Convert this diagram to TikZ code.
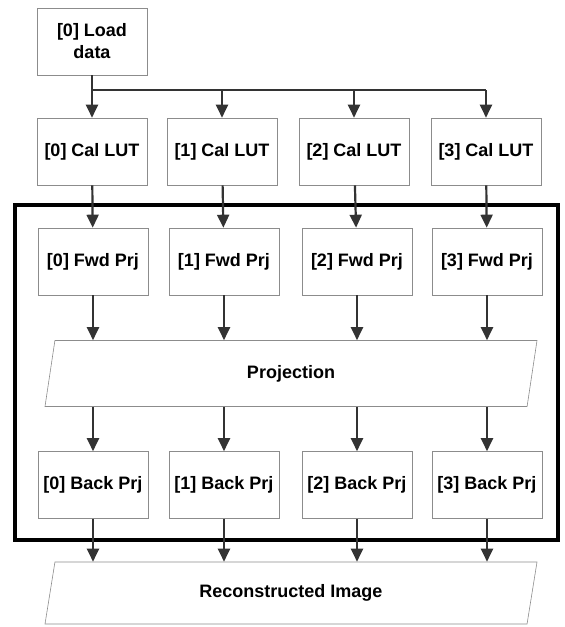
\documentclass[tikz,border=0pt]{standalone}
\usepackage{fontspec}
\setmainfont{Liberation Sans}
\usetikzlibrary{arrows.meta, shapes.geometric}

\begin{document}
\begin{tikzpicture}[
    x=1pt, y=-1pt,
    box/.style={draw=black!45, line width=0.6pt, minimum width=110pt, minimum height=67pt,
                align=center, inner sep=2pt, font=\fontsize{18}{22}\selectfont\bfseries},
    slab/.style={draw=black!45, line width=0.6pt, trapezium, trapezium left angle=64.5,
                 trapezium right angle=115.5, trapezium stretches body,
                 minimum width=492pt, minimum height=66pt, inner sep=2pt,
                 font=\fontsize{18}{22}\selectfont\bfseries},
    wire/.style={line width=2.2pt, draw=black!80},
    arr/.style={wire, -{Triangle[length=13pt,width=12pt]}}
  ]
    \useasboundingbox (0,0) rectangle (565,627);

    \node[box] (load) at (92,41.5) {[0] Load\\data};

    \node[box] (lut0) at (92,151.5)  {[0] Cal LUT};
    \node[box] (lut1) at (222,151.5) {[1] Cal LUT};
    \node[box] (lut2) at (354,151.5) {[2] Cal LUT};
    \node[box] (lut3) at (486,151.5) {[3] Cal LUT};

    \node[box] (fwd0) at (93,261.5)  {[0] Fwd Prj};
    \node[box] (fwd1) at (224,261.5) {[1] Fwd Prj};
    \node[box] (fwd2) at (357,261.5) {[2] Fwd Prj};
    \node[box] (fwd3) at (487,261.5) {[3] Fwd Prj};

    \node[slab] (proj) at (291,373.5) {Projection};

    \node[box] (back0) at (93,485)  {[0] Back Prj};
    \node[box] (back1) at (224,485) {[1] Back Prj};
    \node[box] (back2) at (357,485) {[2] Back Prj};
    \node[box] (back3) at (487,485) {[3] Back Prj};

    \node[slab, minimum height=62pt] (recon) at (291,593) {Reconstructed Image};

    % GPU part
    \draw[line width=4pt] (15,205) rectangle (558,540);

    % load -> LUTs
    \coordinate (bus0) at (92,90);
    \coordinate (bus3) at (486,90);
    \draw[wire] (bus0) -- (bus3);
    \draw[arr] (load) -- (lut0);
    \draw[arr] (lut1 |- bus0) -- (lut1);
    \draw[arr] (lut2 |- bus0) -- (lut2);
    \draw[arr] (bus3) -- (lut3);

    \draw[arr] (lut0) -- (fwd0);
    \draw[arr] (lut1) -- (fwd1);
    \draw[arr] (lut2) -- (fwd2);
    \draw[arr] (lut3) -- (fwd3);

    \draw[arr] (fwd0) -- (fwd0 |- proj.north);
    \draw[arr] (fwd1) -- (fwd1 |- proj.north);
    \draw[arr] (fwd2) -- (fwd2 |- proj.north);
    \draw[arr] (fwd3) -- (fwd3 |- proj.north);

    \draw[arr] (back0 |- proj.south) -- (back0);
    \draw[arr] (back1 |- proj.south) -- (back1);
    \draw[arr] (back2 |- proj.south) -- (back2);
    \draw[arr] (back3 |- proj.south) -- (back3);

    \draw[arr] (back0) -- (back0 |- recon.north);
    \draw[arr] (back1) -- (back1 |- recon.north);
    \draw[arr] (back2) -- (back2 |- recon.north);
    \draw[arr] (back3) -- (back3 |- recon.north);
\end{tikzpicture}
\end{document}
